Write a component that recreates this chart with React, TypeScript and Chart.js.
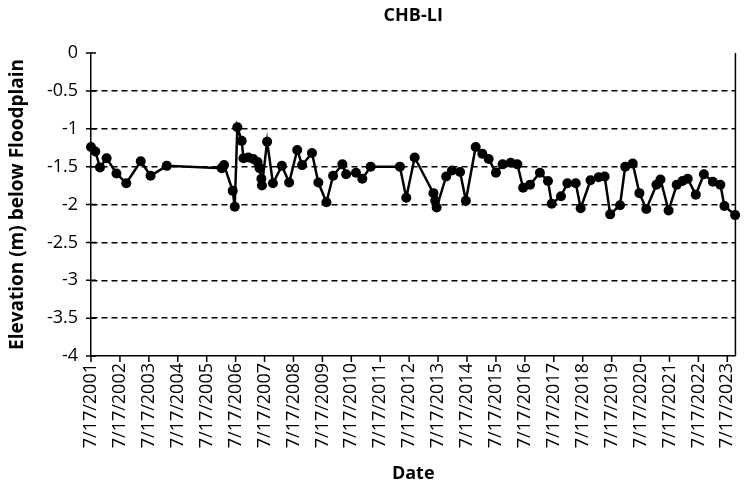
import React, { useEffect, useRef } from "react";
import { Chart, registerables } from "chart.js";

Chart.register(...registerables);

const chartTitle = "CHB-LI";
const yAxisTitle = "Elevation (m) below Floodplain";
const xAxisTitle = "Date";

// decimal years of each measurement
const dates = [
  2001.54, 2001.69, 2001.85, 2002.08, 2002.42, 2002.76, 2003.26, 2003.6, 2004.16,
  2006.06, 2006.14, 2006.44, 2006.51, 2006.6, 2006.75, 2006.81, 2006.98, 2007.15,
  2007.3, 2007.37, 2007.43, 2007.45, 2007.63, 2007.83, 2008.14, 2008.39, 2008.67,
  2008.84, 2009.18, 2009.4, 2009.68, 2009.91, 2010.23, 2010.36, 2010.7, 2010.92,
  2011.21, 2012.22, 2012.44, 2012.73, 2013.38, 2013.44, 2013.49, 2013.82, 2014.02,
  2014.3, 2014.5, 2014.84, 2015.07, 2015.29, 2015.54, 2015.77, 2016.05, 2016.28,
  2016.48, 2016.72, 2017.06, 2017.34, 2017.47, 2017.79, 2018.01, 2018.3, 2018.47,
  2018.81, 2019.09, 2019.3, 2019.49, 2019.83, 2020.01, 2020.27, 2020.5, 2020.74,
  2021.09, 2021.23, 2021.51, 2021.79, 2021.99, 2022.17, 2022.45, 2022.73, 2023.04,
  2023.3, 2023.44, 2023.81,
];

const elevations = [
  -1.24, -1.3, -1.51, -1.39, -1.59, -1.72, -1.43, -1.62, -1.49,
  -1.52, -1.48, -1.82, -2.03, -0.98, -1.16, -1.39, -1.38, -1.4,
  -1.44, -1.52, -1.66, -1.75, -1.17, -1.72, -1.49, -1.71, -1.28,
  -1.48, -1.32, -1.71, -1.97, -1.62, -1.47, -1.6, -1.58, -1.66,
  -1.5, -1.5, -1.91, -1.38, -1.85, -1.95, -2.04, -1.63, -1.55,
  -1.57, -1.95, -1.24, -1.33, -1.4, -1.58, -1.47, -1.45, -1.47,
  -1.78, -1.74, -1.58, -1.69, -1.99, -1.89, -1.72, -1.72, -2.05,
  -1.68, -1.64, -1.63, -2.13, -2.01, -1.5, -1.46, -1.85, -2.06,
  -1.74, -1.67, -2.08, -1.74, -1.69, -1.66, -1.87, -1.6, -1.7,
  -1.74, -2.02, -2.14,
];

const xTickValues = [
  2001.54, 2002.54, 2003.54, 2004.54, 2005.54, 2006.54, 2007.54, 2008.54,
  2009.54, 2010.54, 2011.54, 2012.54, 2013.54, 2014.54, 2015.54, 2016.54,
  2017.54, 2018.54, 2019.54, 2020.54, 2021.54, 2022.54, 2023.54,
];
const xTickLabels = [
  "7/17/2001", "7/17/2002", "7/17/2003", "7/17/2004", "7/17/2005", "7/17/2006",
  "7/17/2007", "7/17/2008", "7/17/2009", "7/17/2010", "7/17/2011", "7/17/2012",
  "7/17/2013", "7/17/2014", "7/17/2015", "7/17/2016", "7/17/2017", "7/17/2018",
  "7/17/2019", "7/17/2020", "7/17/2021", "7/17/2022", "7/17/2023",
];
const xMin = 2001.54;
const xMax = 2023.82;

const yTickValues = [0, -0.5, -1, -1.5, -2, -2.5, -3, -3.5, -4];
const yTickLabels = ["0", "-0.5", "-1", "-1.5", "-2", "-2.5", "-3", "-3.5", "-4"];

const FONT = '"Open Sans", sans-serif';

const decorPlugin = {
  id: "decor",
  afterDraw(chart: any) {
    const { ctx, chartArea, scales } = chart;
    const { left, right, top, bottom } = chartArea;
    ctx.save();
    ctx.strokeStyle = "#000";
    ctx.lineWidth = 1.5;
    ctx.beginPath();
    ctx.moveTo(right, top);
    ctx.lineTo(right, bottom);
    scales.y.ticks.forEach((t: any) => {
      const py = scales.y.getPixelForValue(t.value);
      ctx.moveTo(left - 5, py);
      ctx.lineTo(left + 5, py);
    });
    scales.x.ticks.forEach((t: any) => {
      const px = scales.x.getPixelForValue(t.value);
      ctx.moveTo(px, bottom);
      ctx.lineTo(px, bottom + 6);
    });
    ctx.stroke();
    ctx.fillStyle = "#000";
    ctx.font = `bold 18px ${FONT}`;
    ctx.textAlign = "center";
    ctx.textBaseline = "middle";
    ctx.fillText(chartTitle, (left + right) / 2, 16);
    ctx.restore();
  },
};

export default function App() {
  const canvasRef = useRef<HTMLCanvasElement | null>(null);

  useEffect(() => {
    document.body.style.margin = "0";
    if (!canvasRef.current) return;
    Chart.defaults.color = "#000";
    const chart = new Chart(canvasRef.current, {
      type: "line",
      data: {
        datasets: [
          {
            data: dates.map((d, i) => ({ x: d, y: elevations[i] })),
            borderColor: "#000",
            backgroundColor: "#000",
            borderWidth: 2.5,
            pointRadius: 5,
            pointBackgroundColor: "#000",
            pointBorderColor: "#000",
            pointBorderWidth: 0,
            tension: 0,
            clip: false as any,
          },
        ],
      },
      options: {
        animation: false,
        responsive: true,
        maintainAspectRatio: false,
        layout: { padding: { top: 53, right: 6, left: 0, bottom: 0 } },
        plugins: {
          legend: { display: false },
          tooltip: { enabled: false },
          title: { display: false },
        },
        scales: {
          x: {
            type: "linear",
            min: xMin,
            max: xMax,
            afterBuildTicks: (scale: any) => {
              scale.ticks = xTickValues.map((v) => ({ value: v }));
            },
            afterFit: (scale: any) => {
              scale.height = 132;
            },
            ticks: {
              autoSkip: false,
              minRotation: 90,
              maxRotation: 90,
              padding: 7,
              font: { family: FONT, size: 18 },
              color: "#000",
              callback: (_v: any, i: number) => xTickLabels[i],
            },
            grid: { display: false, drawTicks: false },
            border: { display: true, color: "#000", width: 1.5 },
            title: {
              display: true,
              text: xAxisTitle,
              font: { family: FONT, size: 18, weight: "bold" },
              color: "#000",
              padding: { top: 0, bottom: 3 },
            },
          },
          y: {
            type: "linear",
            min: -4,
            max: 0,
            afterBuildTicks: (scale: any) => {
              scale.ticks = yTickValues.map((v) => ({ value: v }));
            },
            afterFit: (scale: any) => {
              scale.width = 91;
            },
            ticks: {
              padding: 13,
              font: { family: FONT, size: 18 },
              color: "#000",
              callback: (_v: any, i: number) => yTickLabels[i],
            },
            grid: {
              drawTicks: false,
              lineWidth: 1.5,
              color: (c: any) =>
                c.tick && (c.tick.value === 0 || c.tick.value === -4) ? "rgba(0,0,0,0)" : "#000",
            },
            border: { display: true, color: "#000", width: 1.5, dash: [6, 4] },
            title: {
              display: true,
              text: yAxisTitle,
              font: { family: FONT, size: 19, weight: "bold" },
              color: "#000",
              padding: { top: 6, bottom: 0 },
            },
          },
        },
      },
      plugins: [decorPlugin],
    });
    return () => chart.destroy();
  }, []);

  return (
    <div style={{ width: 756, height: 488, position: "relative" }}>
      <canvas ref={canvasRef} />
    </div>
  );
}
